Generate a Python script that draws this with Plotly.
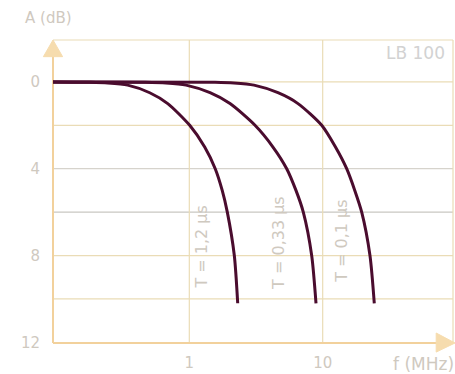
import math
import plotly.graph_objects as go

# Attenuation A (dB) versus frequency f (MHz) for three rise times T
f_t12 = [0.093, 0.18, 0.245, 0.345, 0.505, 0.689, 1.007, 1.304, 1.564, 1.765, 1.927, 2.175, 2.306]
a_t12 = [0, 0.02, 0.05, 0.15, 0.5, 1, 2, 3, 4, 5, 6, 8, 10.2]

f_t033 = [0.093, 0.466, 0.669, 0.945, 1.43, 2.019, 3.108, 4.238, 5.373, 6.305, 7.154, 8.27, 8.91]
a_t033 = [0, 0.02, 0.05, 0.15, 0.5, 1, 2, 3, 4, 5, 6, 8, 10.2]

f_t01 = [0.093, 1.558, 2.163, 3.055, 4.62, 6.53, 9.83, 12.47, 15.13, 17.4, 19.61, 22.62, 24.37]
a_t01 = [0, 0.02, 0.05, 0.15, 0.5, 1, 2, 3, 4, 5, 6, 8, 10.2]

series = [
    (f_t12, a_t12, "T = 1,2 µs"),
    (f_t033, a_t033, "T = 0,33 µs"),
    (f_t01, a_t01, "T = 0,1 µs"),
]

# grid
y_grid = [0, 2, 4, 6, 8, 10]
y_grid_colors = ["#eadcb6", "#eadcb6", "#d6d3cc", "#c9c7c2", "#eadcb6", "#eadcb6"]
x_grid = [1, 10]
y_tick_vals = [0, 4, 8, 12]
y_tick_text = ["0", "4", "8", "12"]
x_tick_vals = [1, 10]
x_tick_text = ["1", "10"]

CURVE = "#4a0c2e"
GRID = "#eadcb6"
AXIS = "#f2d19c"
TEXT = "#cfc9bf"
FONT = "DejaVu Sans"

fig = go.Figure()
for fx, ay, name in series:
    fig.add_trace(go.Scatter(
        x=fx, y=ay, mode="lines", name=name,
        line=dict(color=CURVE, width=3, shape="spline", smoothing=0.7),
        hoverinfo="skip", showlegend=False,
    ))

shapes = []
for v, c in zip(y_grid, y_grid_colors):
    shapes.append(dict(type="line", xref="paper", yref="y", x0=0, x1=1, y0=v, y1=v,
                       line=dict(color=c, width=1.2), layer="below"))
for v in x_grid:
    shapes.append(dict(type="line", xref="x", yref="paper", x0=v, x1=v, y0=0, y1=1,
                       line=dict(color=GRID, width=1.2), layer="below"))
# frame: top and right border
shapes.append(dict(type="line", xref="paper", yref="paper", x0=0, x1=1, y0=1, y1=1,
                   line=dict(color=GRID, width=1.2), layer="below"))
shapes.append(dict(type="line", xref="paper", yref="paper", x0=1, x1=1, y0=0, y1=1,
                   line=dict(color=GRID, width=1.2), layer="below"))
# axes with arrow heads
shapes.append(dict(type="line", xref="paper", yref="paper", x0=0, x1=0, y0=0, y1=0.96,
                   line=dict(color=AXIS, width=2), layer="below"))
shapes.append(dict(type="line", xref="paper", yref="paper", x0=0, x1=0.97, y0=0, y1=0,
                   line=dict(color=AXIS, width=2), layer="below"))
shapes.append(dict(type="path", xref="paper", yref="paper",
                   path="M -0.024,0.945 L 0,1.0 L 0.024,0.945 Z",
                   fillcolor="#f6dcae", line=dict(color="#f6dcae", width=1)))
shapes.append(dict(type="path", xref="paper", yref="paper",
                   path="M 0.958,0.033 L 1.005,0 L 0.958,-0.030 Z",
                   fillcolor="#f6dcae", line=dict(color="#f6dcae", width=1)))

annotations = [
    dict(text="A (dB)", xref="paper", yref="paper", x=-0.075, y=1.035,
         xanchor="left", yanchor="bottom", showarrow=False,
         font=dict(family=FONT, size=15, color=TEXT)),
    dict(text="f (MHz)", xref="paper", yref="paper", x=1.008, y=-0.03,
         xanchor="right", yanchor="top", showarrow=False,
         font=dict(family=FONT, size=17, color=TEXT)),
    dict(text="LB 100", xref="paper", yref="paper", x=0.985, y=0.997,
         xanchor="right", yanchor="top", showarrow=False,
         font=dict(family=FONT, size=17, color="#d2d2d2")),
]
label_pos = [(1.24, 7.6), (4.7, 7.42), (13.8, 7.35)]
for (lx, ly), (_, _, name) in zip(label_pos, series):
    annotations.append(dict(text=name, x=math.log10(lx), y=ly,
                            xref="x", yref="y", textangle=-90, showarrow=False,
                            font=dict(family=FONT, size=16, color=TEXT)))

fig.update_layout(
    width=455, height=374,
    margin=dict(l=53, r=2, t=40, b=29),
    paper_bgcolor="white", plot_bgcolor="white",
    shapes=shapes, annotations=annotations,
    xaxis=dict(type="log", range=[-1.022, 1.977], showgrid=False, zeroline=False,
               showline=False, tickvals=x_tick_vals, ticktext=x_tick_text,
               ticks="", ticklabelstandoff=9,
               tickfont=dict(family=FONT, size=15, color=TEXT)),
    yaxis=dict(range=[12.03, -1.93], showgrid=False, zeroline=False, showline=False,
               tickvals=y_tick_vals, ticktext=y_tick_text, ticks="",
               ticklabelstandoff=12,
               tickfont=dict(family=FONT, size=15, color=TEXT)),
)

fig.write_html("out.html")
